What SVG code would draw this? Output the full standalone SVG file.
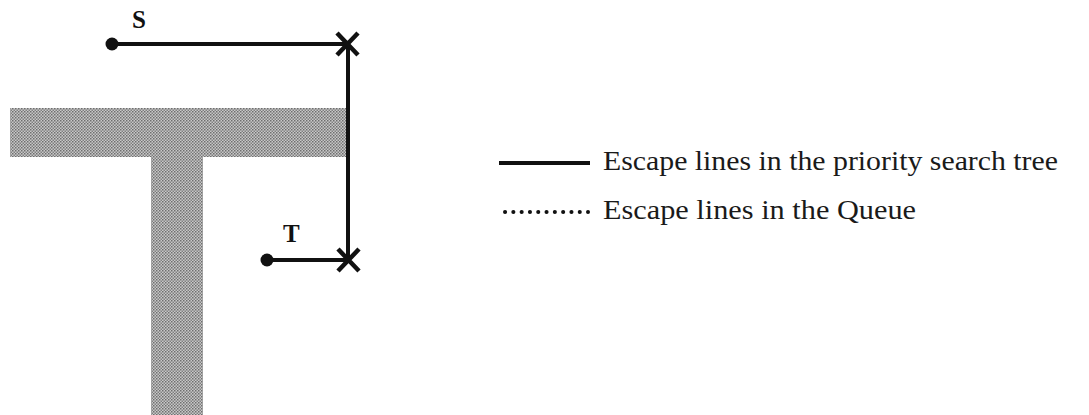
<svg xmlns="http://www.w3.org/2000/svg" width="1089" height="415" viewBox="0 0 1089 415">
  <defs>
    <pattern id="dither" width="3" height="3" patternUnits="userSpaceOnUse">
      <rect width="3" height="3" fill="#c8c8c8"/>
      <rect x="0" y="0" width="1.5" height="1.5" fill="#6e6e6e"/>
      <rect x="1.5" y="1.5" width="1.5" height="1.5" fill="#808080"/>
    </pattern>
    <style>
      .wire { stroke: #111; stroke-width: 4; fill: none; stroke-linecap: butt; }
      .cross { stroke: #111; stroke-width: 4.5; fill: none; }
      .dot { fill: #111; }
      .lbl { font-family: "Liberation Serif", "Times New Roman", serif; font-size: 27px; fill: #1a1a1a; }
      .pt { font-family: "Liberation Serif", "Times New Roman", serif; font-size: 25px; font-weight: bold; fill: #111; }
      .queue { stroke: #111; stroke-width: 4; stroke-dasharray: 0.1 8.2; fill: none; stroke-linecap: round; }
    </style>
  </defs>

  <rect width="1089" height="415" fill="#ffffff"/>

  <!-- obstacle: T-shaped shaded region -->
  <g id="obstacle" fill="url(#dither)">
    <rect x="10" y="108" width="338" height="49"/>
    <rect x="151" y="157" width="52" height="258"/>
  </g>

  <!-- escape-line segments -->
  <g id="connectors">
    <line class="wire" x1="112" y1="44" x2="345" y2="44"/>
    <line class="wire" x1="348" y1="46" x2="348" y2="258"/>
    <line class="wire" x1="267" y1="260" x2="346" y2="260"/>
  </g>

  <g id="node-S">
    <circle class="dot" cx="112" cy="44" r="6.5"/>
    <text class="pt" x="132" y="28">S</text>
  </g>

  <g id="node-T">
    <circle class="dot" cx="267" cy="260" r="6.5"/>
    <text class="pt" x="283" y="242">T</text>
  </g>

  <g id="cross-top">
    <path class="cross" d="M337 33 L358 55 M358 33 L337 55"/>
  </g>

  <g id="cross-bottom">
    <path class="cross" d="M338 249 L359 271 M359 249 L338 271"/>
  </g>

  <!-- legend -->
  <g id="legend">
    <line class="wire" x1="499" y1="163" x2="590" y2="163"/>
    <text class="lbl" x="603" y="170" textLength="455" lengthAdjust="spacingAndGlyphs">Escape lines in the priority search tree</text>
    <line class="queue" x1="505" y1="212" x2="588" y2="212"/>
    <text class="lbl" x="603" y="219" textLength="313" lengthAdjust="spacingAndGlyphs">Escape lines in the Queue</text>
  </g>
</svg>
